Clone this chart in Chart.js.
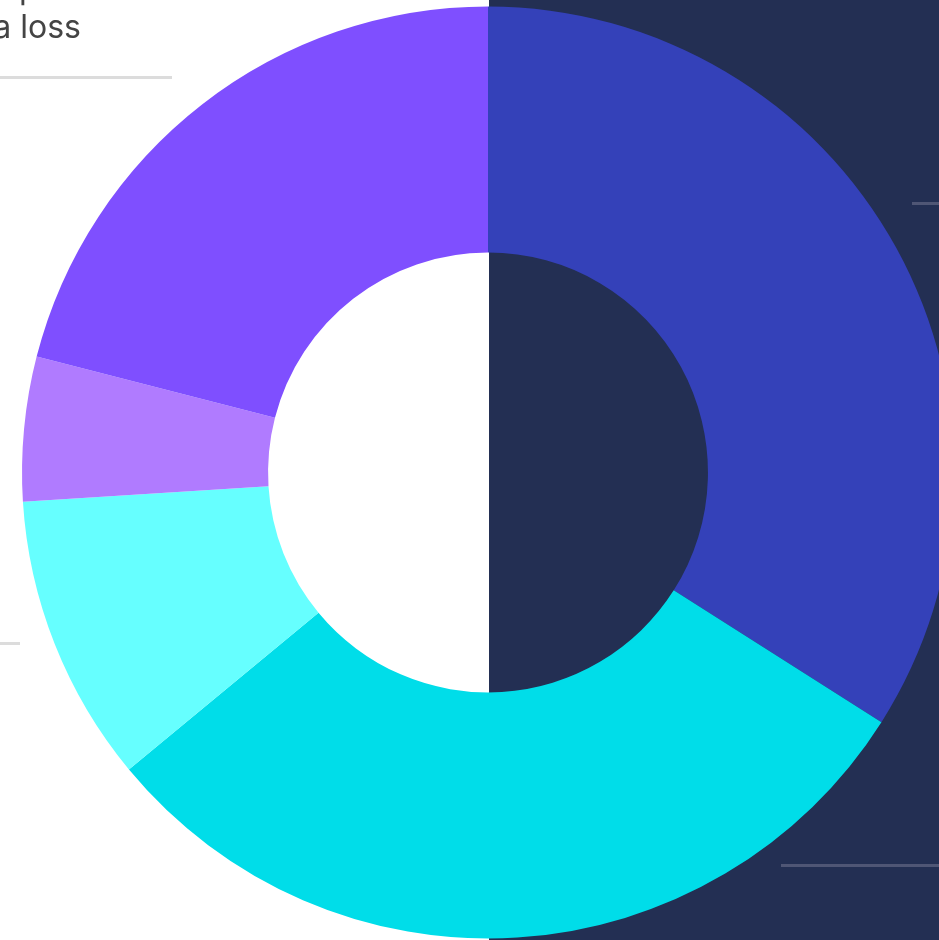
<!DOCTYPE html>
<html>
<head>
<meta charset="utf-8">
<script src="https://cdn.jsdelivr.net/npm/chart.js@4/dist/chart.umd.min.js"></script>
<style>
  html, body { margin:0; padding:0; overflow:hidden; background:#fff; }
  #wrap { position:absolute; left:0; top:0; width:1000px; height:1000px; }
</style>
</head>
<body>
<div id="wrap"><canvas id="donut" width="1000" height="1000"></canvas></div>
<script>
const categories = ['Category A','Category B','Category C','Category D','Category E'];
const shares = [34, 30, 10, 5, 21];
const colors = ['#3441b9','#00dde9','#66ffff','#b07bff','#7f4fff'];

// background split + leader lines + cut-off label
const backdrop = {
  id:'backdrop',
  beforeDraw(chart){
    const c = chart.ctx;
    const arc = chart.getDatasetMeta(0).data[0];
    const cx = Math.round(arc.x) + 1;
    c.save();
    c.fillStyle = '#fff';
    c.fillRect(0,0,chart.width,chart.height);
    c.fillStyle = '#232f53';
    c.fillRect(cx,0,chart.width-cx,chart.height);

    c.lineWidth = 3;
    c.strokeStyle = '#dcdcdc';
    c.beginPath();
    c.moveTo(0,77.5); c.lineTo(172,77.5);
    c.moveTo(0,643.5); c.lineTo(20,643.5);
    c.stroke();
    c.strokeStyle = '#4f5675';
    c.beginPath();
    c.moveTo(912,203.5); c.lineTo(1000,203.5);
    c.moveTo(781,865.5); c.lineTo(1000,865.5);
    c.stroke();

    c.fillStyle = '#444';
    c.font = '32px Inter, "Noto Sans", sans-serif';
    c.textBaseline = 'alphabetic';
    c.textAlign = 'right';
    c.fillText('data loss', 81, 38);
    c.textAlign = 'left';
    c.fillText('p', 19, -1);
    c.restore();
  }
};

new Chart(document.getElementById('donut'), {
  type:'doughnut',
  data:{
    labels:categories,
    datasets:[{
      data:shares,
      backgroundColor:colors,
      borderWidth:0,
      hoverOffset:0
    }]
  },
  options:{
    responsive:false,
    animation:false,
    cutout:'47.2%',
    layout:{ padding:{ left:22, top:6, right:46, bottom:61 } },
    plugins:{ legend:{display:false}, tooltip:{enabled:false} },
    events:[]
  },
  plugins:[backdrop]
});
</script>
</body>
</html>
